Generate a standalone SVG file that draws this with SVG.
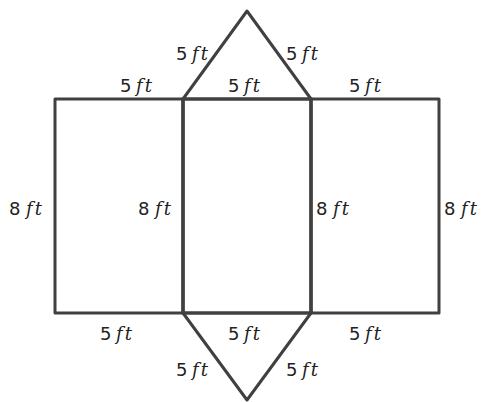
<svg xmlns="http://www.w3.org/2000/svg" width="489" height="402" viewBox="0 0 489 402">
<style>
.e{fill:none;stroke:#404040;stroke-width:3;stroke-linejoin:round;stroke-linecap:round}
.m{stroke-width:3.5}
text{font-family:"DejaVu Serif","Liberation Serif",serif;font-size:18px;fill:#222}
.n{font-family:"DejaVu Sans","Liberation Sans",sans-serif}
.i{font-style:italic;letter-spacing:2px}
</style>
<rect width="489" height="402" fill="#fff"/>
<g id="connectors">
<rect id="left-rect" class="e" x="55" y="99" width="128" height="214"/>
<rect id="right-rect" class="e" x="311" y="99" width="128" height="214"/>
<rect id="mid-rect" class="e m" x="183" y="99" width="128" height="214"/>
<polyline id="top-tri" class="e" points="183,99 247,11 311,99"/>
<polyline id="bot-tri" class="e" points="183,313 247,400 311,313"/>
</g>
<g id="labels">
<text x="120" y="92"><tspan class="n">5</tspan><tspan class="i" x="136">ft</tspan></text>
<text x="228" y="92"><tspan class="n">5</tspan><tspan class="i" x="244">ft</tspan></text>
<text x="349" y="92"><tspan class="n">5</tspan><tspan class="i" x="365">ft</tspan></text>
<text x="176" y="60"><tspan class="n">5</tspan><tspan class="i" x="192">ft</tspan></text>
<text x="286" y="60"><tspan class="n">5</tspan><tspan class="i" x="302">ft</tspan></text>
<text x="9" y="215"><tspan class="n">8</tspan><tspan class="i" x="26">ft</tspan></text>
<text x="138" y="215"><tspan class="n">8</tspan><tspan class="i" x="155">ft</tspan></text>
<text x="316" y="215"><tspan class="n">8</tspan><tspan class="i" x="333">ft</tspan></text>
<text x="444" y="215"><tspan class="n">8</tspan><tspan class="i" x="461">ft</tspan></text>
<text x="100" y="340"><tspan class="n">5</tspan><tspan class="i" x="116">ft</tspan></text>
<text x="228" y="340"><tspan class="n">5</tspan><tspan class="i" x="244">ft</tspan></text>
<text x="349" y="340"><tspan class="n">5</tspan><tspan class="i" x="365">ft</tspan></text>
<text x="176" y="376"><tspan class="n">5</tspan><tspan class="i" x="192">ft</tspan></text>
<text x="286" y="376"><tspan class="n">5</tspan><tspan class="i" x="302">ft</tspan></text>
</g>
</svg>
